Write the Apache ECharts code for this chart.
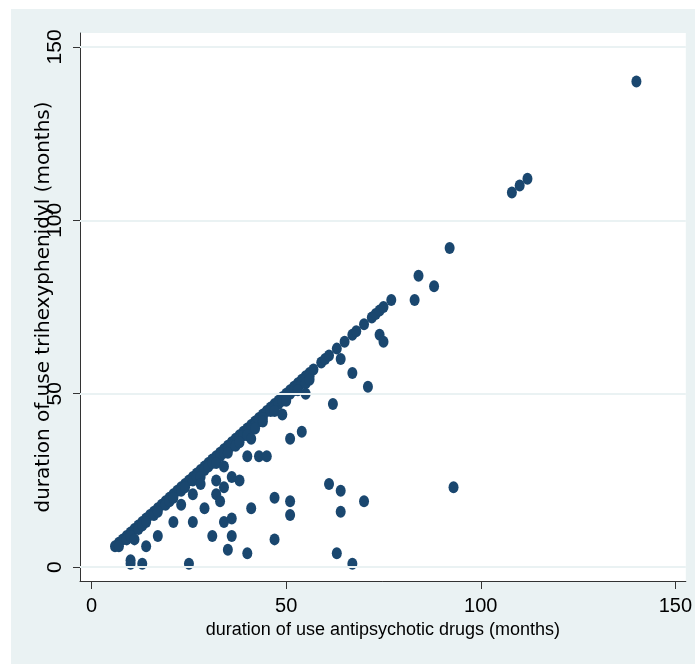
<!DOCTYPE html>
<html><head><meta charset="utf-8">
<script src="https://cdn.jsdelivr.net/npm/echarts@6/dist/echarts.min.js"></script>
<style>
html,body{margin:0;padding:0;background:#fff;width:695px;height:664px;overflow:hidden}
#c{position:absolute;left:11px;top:9px;width:684px;height:655px;background:#eaf2f3}
</style>
</head><body><div id="c"></div>
<script>
// tick labels
const xTicks = [0, 50, 100, 150];
const yTicks = [0, 50, 100, 150];
const xTitle = 'duration of use antipsychotic drugs (months)';
const yTitle = 'duration of use trihexyphenidyl (months)';

// patients whose two durations are equal (x = y)
const equalDuration = [6,7,8,9,10,11,12,13,14,15,16,17,18,19,20,21,22,23,24,25,26,27,28,29,30,
  31,32,33,34,35,36,37,38,39,40,41,42,43,44,45,46,47,48,49,50,51,52,53,54,55,56,57,
  59,60,61,63,65,67,68,70,72,73,74,75,77,84,92,108,110,112,140];

// patients with trihexyphenidyl one month shorter (x, x-1): thickens the band
const oneMonthShorter = [7,9,10,12,13,14,16,17,19,20,21,23,24,26,27,29,30,31,33,34,35,36,38,39,
  40,41,42,43,44,46,47,48,49,50,51,52,53,54,55,56];

// other patients: antipsychotic duration vs trihexyphenidyl duration
const antipsychotic   = [11,28,32,35,37,38,40,42,44,47,50,53,55,56,
  74,75,64,67,71,62,55,49,54,51,41,40,43,45,38,36,34,32,34,32,33,28,26,23,29,21,26,17,14,10,10,13,25,
  31,34,36,36,35,40,41,47,51,51,47,61,64,70,64,93,63,67,88,83];
const trihexyphenidyl = [8,26,30,33,35,36,38,40,42,45,48,51,53,54,
  67,65,60,56,52,47,50,44,39,37,37,32,32,32,25,26,29,25,23,21,19,24,21,18,17,13,13,9,6,2,1,1,1,
  9,13,14,9,5,4,17,20,19,15,8,24,22,19,16,23,4,1,81,77];

const pts = equalDuration.map(v => [v, v])
  .concat(oneMonthShorter.map(v => [v, v - 1]))
  .concat(antipsychotic.map((v, i) => [v, trihexyphenidyl[i]]));

const sans = "'Liberation Sans',Arial,sans-serif";
const chart = echarts.init(document.getElementById('c'), null, {renderer: 'canvas'});
chart.setOption({
  animation: false,
  backgroundColor: '#eaf2f3',
  grid: {left: 69, top: 24, right: 6, bottom: 83, show: true, backgroundColor: '#ffffff', borderWidth: 0},
  xAxis: {
    type: 'value', min: -3, max: 152.7,
    axisLine: {show: true, onZero: false, lineStyle: {color: '#333', width: 1}},
    axisTick: {show: true, length: 8, customValues: xTicks, lineStyle: {color: '#333'}},
    axisLabel: {customValues: xTicks, margin: 15, fontSize: 20, fontFamily: sans, color: '#000'},
    splitLine: {show: false},
    name: xTitle, nameLocation: 'middle', nameGap: 35,
    nameTextStyle: {fontSize: 18, fontFamily: sans, color: '#000'}
  },
  yAxis: {
    type: 'value', min: -4, max: 154,
    axisLine: {show: true, onZero: false, lineStyle: {color: '#333', width: 1}},
    axisTick: {show: true, length: 7, customValues: yTicks, lineStyle: {color: '#333'}},
    axisLabel: {customValues: yTicks, rotate: 90, margin: 14, fontSize: 21, fontFamily: sans, color: '#000'},
    splitLine: {show: false},
    name: yTitle, nameLocation: 'middle', nameGap: 26, nameMoveOverlap: false,
    nameTextStyle: {fontSize: 20, fontFamily: "'DejaVu Sans',sans-serif", color: '#000'}
  },
  series: [
    {
      type: 'scatter', data: [], z: 1, silent: true,
      markLine: {
        silent: true, symbol: 'none', label: {show: false},
        lineStyle: {color: '#eaf2f3', width: 2, type: 'solid'},
        data: yTicks.map(v => ({yAxis: v}))
      }
    },
    {
      type: 'scatter', z: 3, data: pts, symbol: 'circle', symbolSize: [10, 12],
      itemStyle: {color: '#1a476f', opacity: 1}
    }
  ]
});
</script>
</body></html>
